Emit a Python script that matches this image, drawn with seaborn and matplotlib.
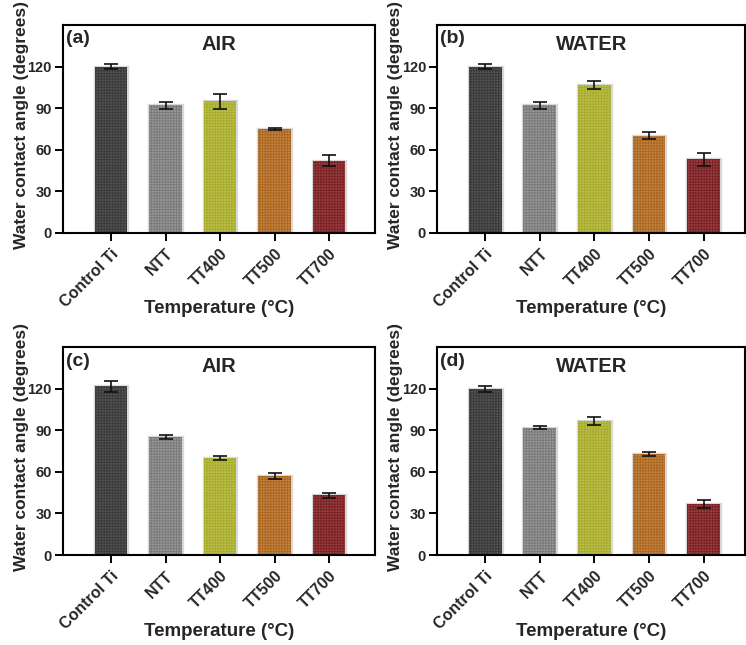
import pandas as pd
import matplotlib.pyplot as plt
import seaborn as sns

# Sample groups
groups = ['Control Ti', 'NTT', 'TT400', 'TT500', 'TT700']

# Mean contact angles (degrees) and their error bars for the four panels
air_a = [120, 92, 95, 75, 52]
air_a_err = [2, 2.5, 5.5, 0.7, 4]
water_b = [120, 92, 107, 70, 53]
water_b_err = [2, 2.5, 3, 2.5, 5]
air_c = [122, 85, 70, 57, 43]
air_c_err = [4, 1.5, 1.5, 2, 2]
water_d = [120, 92, 97, 73, 37]
water_d_err = [2, 1, 3, 1.5, 3]

panels = [('(a)', 'AIR', air_a, air_a_err),
          ('(b)', 'WATER', water_b, water_b_err),
          ('(c)', 'AIR', air_c, air_c_err),
          ('(d)', 'WATER', water_d, water_d_err)]

# Bar fill colours and the darker check colour drawn on top
fill_colors = ['#555555', '#9a9a9a', '#ccd244', '#d28838', '#a43638']
check_colors = ['#3a3a3a', '#7a7a7a', '#a8ac28', '#ae661e', '#7c2024']

sns.set_style('white')
plt.rcParams['font.family'] = ['Liberation Sans', 'DejaVu Sans']
plt.rcParams['font.weight'] = 'bold'
plt.rcParams['hatch.linewidth'] = 0.7

fig = plt.figure(figsize=(7.46, 6.45), dpi=100)
positions = [[0.0845, 0.639, 0.418, 0.322],
             [0.586, 0.639, 0.413, 0.322],
             [0.0845, 0.1395, 0.418, 0.322],
             [0.586, 0.1395, 0.413, 0.322]]

for pos, (tag, medium, vals, errs) in zip(positions, panels):
    ax = fig.add_axes(pos)
    df = pd.DataFrame({'group': groups, 'angle': vals})

    # light outline bars
    sns.barplot(data=df, x='group', y='angle', hue='group', palette=fill_colors,
                width=0.6, edgecolor='#d8d8d8', linewidth=2.4, legend=False, ax=ax)
    # checkered fill drawn over them
    sns.barplot(data=df, x='group', y='angle', hue='group', palette=fill_colors,
                width=0.6, linewidth=0, hatch='++++++', legend=False, ax=ax)
    for patch, c in zip(ax.patches[len(groups):], check_colors):
        patch.set_edgecolor(c)

    ax.errorbar(groups, vals, yerr=errs, fmt='none', ecolor='#111111',
                elinewidth=1.2, capsize=5, capthick=1.2, zorder=5)

    ax.set_ylim(0, 150)
    ax.set_xlim(-0.88, 4.84 if tag in ('(a)', '(c)') else 4.76)
    ax.set_yticks([0, 30, 60, 90, 120])
    for side in ['top', 'right', 'left', 'bottom']:
        ax.spines[side].set_visible(True)
        ax.spines[side].set_color('black')
        ax.spines[side].set_linewidth(1.5)
    ax.tick_params(axis='both', which='both', direction='out', length=6, width=1.4,
                   color='black', left=True, bottom=True)
    ax.tick_params(axis='y', pad=2)
    plt.setp(ax.get_xticklabels(), rotation=45, ha='right', rotation_mode='anchor',
             fontweight='bold', fontsize=11.5)
    plt.setp(ax.get_yticklabels(), fontweight='bold', fontsize=10.5)

    ax.set_xlabel('Temperature (°C)', fontsize=13.5, fontweight='bold')
    ax.xaxis.set_label_coords(0.5, -0.325)
    ax.set_ylabel('Water contact angle (degrees)', fontsize=12.5, fontweight='bold')
    ax.yaxis.set_label_coords(-0.11, 0.52)
    ax.text(0.01, 0.975, tag, transform=ax.transAxes, ha='left', va='top',
            fontsize=14, fontweight='bold')
    ax.text(0.5, 0.955, medium, transform=ax.transAxes, ha='center', va='top',
            fontsize=14.5, fontweight='bold')

fig.savefig('out.png', dpi=100)
